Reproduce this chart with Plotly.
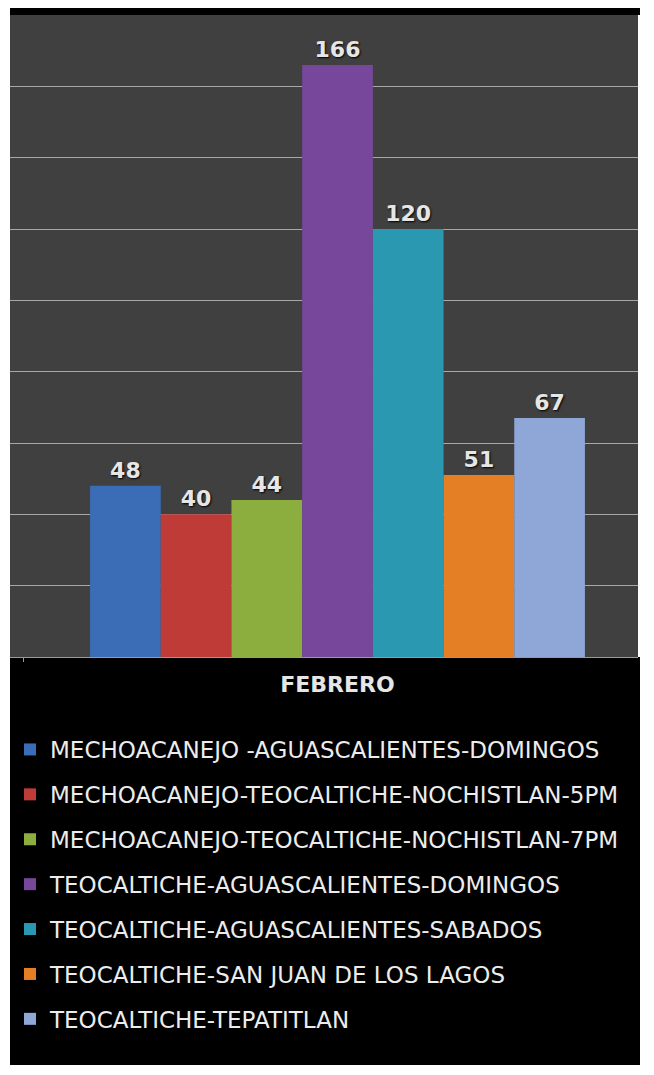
import plotly.graph_objects as go

# ---- data ----
category = ["FEBRERO"]
series_names = [
    "MECHOACANEJO -AGUASCALIENTES-DOMINGOS",
    "MECHOACANEJO-TEOCALTICHE-NOCHISTLAN-5PM",
    "MECHOACANEJO-TEOCALTICHE-NOCHISTLAN-7PM",
    "TEOCALTICHE-AGUASCALIENTES-DOMINGOS",
    "TEOCALTICHE-AGUASCALIENTES-SABADOS",
    "TEOCALTICHE-SAN JUAN DE LOS LAGOS",
    "TEOCALTICHE-TEPATITLAN",
]
series_values = [48, 40, 44, 166, 120, 51, 67]
series_colors = ["#3A6DB5", "#BE3B37", "#8CAE3E", "#76479A", "#2B98B2", "#E57F26", "#8EA7D6"]

# page body has an 8px margin, so the figure is offset by 8px
ml, mr, mt, mb = 2, 16, 7, 418
plot_w, plot_h = 628, 642
W = ml + plot_w + mr
H = mt + plot_h + mb

fig = go.Figure()
for i, (name, val, col) in enumerate(zip(series_names, series_values, series_colors)):
    fig.add_trace(go.Bar(
        x=category, y=[val], name=name,
        marker=dict(color=col, line=dict(width=0)),
        text=[str(val)], textposition="outside",
        textfont=dict(family="DejaVu Sans", size=22, color="#e6e6e6",
                      weight="bold", shadow="1px 1px 2px #000000"),
        cliponaxis=False,
        legendgroup="g%d" % i,
    ))

shapes = [
    # top black band
    dict(type="rect", xref="paper", yref="paper", x0=0, x1=1 + 2 / plot_w,
         y0=1, y1=1 + 10 / plot_h, fillcolor="#000000", line=dict(width=0), layer="below"),
    # bottom black area
    dict(type="rect", xref="paper", yref="paper", x0=0, x1=1 + 2 / plot_w,
         y0=-408 / plot_h, y1=0, fillcolor="#000000", line=dict(width=0), layer="below"),
]

fig.update_layout(
    width=W, height=H,
    margin=dict(l=ml, r=mr, t=mt, b=mb),
    paper_bgcolor="#ffffff",
    plot_bgcolor="#404040",
    barmode="group",
    bargap=0.212,
    bargroupgap=0.0,
    shapes=shapes,
    showlegend=True,
    legend=dict(
        x=0.0, xanchor="left", y=-(728 - 657) / plot_h, yanchor="top",
        bgcolor="rgba(0,0,0,0)",
        font=dict(family="DejaVu Sans", size=23, color="#ececec"),
        tracegroupgap=12,
        traceorder="grouped",
        itemwidth=30,
    ),
    xaxis=dict(
        range=[-0.5215, 0.4785],
        showgrid=False,
        showline=True, linecolor="#9a9a9a", linewidth=1,
        ticks="outside", tickson="boundaries", ticklen=4, tickcolor="#9a9a9a",
        tickfont=dict(family="DejaVu Sans", size=22, color="#e6e6e6", weight="bold"),
        ticklabelstandoff=8,
    ),
    yaxis=dict(
        range=[0, 180],
        dtick=20,
        showgrid=True, gridcolor="#a8a8a8", gridwidth=1,
        showticklabels=False,
        zeroline=False,
        showline=False,
    ),
)

fig.write_html("out.html")
